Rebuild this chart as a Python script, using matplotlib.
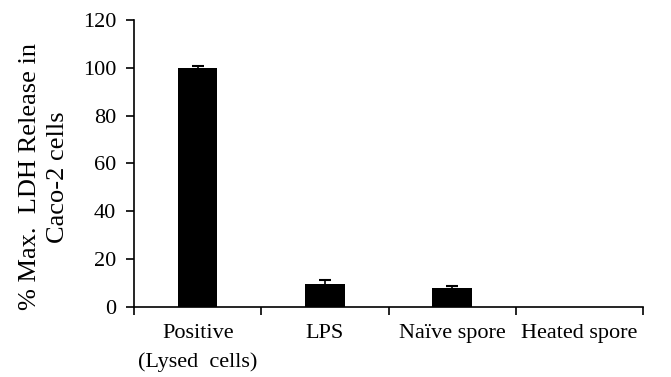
import numpy as np
import matplotlib.pyplot as plt

plt.rcParams['font.family'] = ['Liberation Serif', 'DejaVu Serif']

# groups
labels = ['Positive\n(Lysed  cells)', 'LPS', 'Naïve spore', 'Heated spore']

# % max LDH release
values = [100, 9.5, 8.0, 0]
errors = [0.8, 1.6, 0.7, 0]

fig = plt.figure(figsize=(6.71, 3.77), dpi=100)
ax = fig.add_axes([0.2, 0.186, 0.758, 0.761])

x = np.arange(len(labels))
ax.bar(x, values, width=0.31, color='black', zorder=2)
ax.errorbar(x[:3], values[:3], yerr=errors[:3], fmt='none', ecolor='black',
            elinewidth=1.2, capsize=4, capthick=1.5, zorder=3)

ax.set_xlim(-0.5, len(labels) - 0.5)
ax.set_ylim(0, 120)
ax.set_yticks(range(0, 121, 20))

# ticks between categories, labels at centers
ax.set_xticks(np.arange(-0.5, len(labels), 1.0))
ax.set_xticklabels([])
ax.set_xticks(x, minor=True)
ax.set_xticklabels(labels, minor=True, fontsize=16, linespacing=1.65)
ax.tick_params(axis='x', which='minor', length=0, pad=12)
ax.tick_params(axis='x', which='major', direction='out', length=6, width=1.2)
ax.tick_params(axis='y', direction='out', length=6, width=1.2, labelsize=16, pad=7)

for s in ['top', 'right']:
    ax.spines[s].set_visible(False)
for s in ['left', 'bottom']:
    ax.spines[s].set_linewidth(1.2)

ax.set_ylabel('% Max.  LDH Release in\nCaco-2 cells', fontsize=19, linespacing=1.35)
ax.yaxis.set_label_coords(-0.128, 0.453)

fig.savefig('out.png', dpi=100)
